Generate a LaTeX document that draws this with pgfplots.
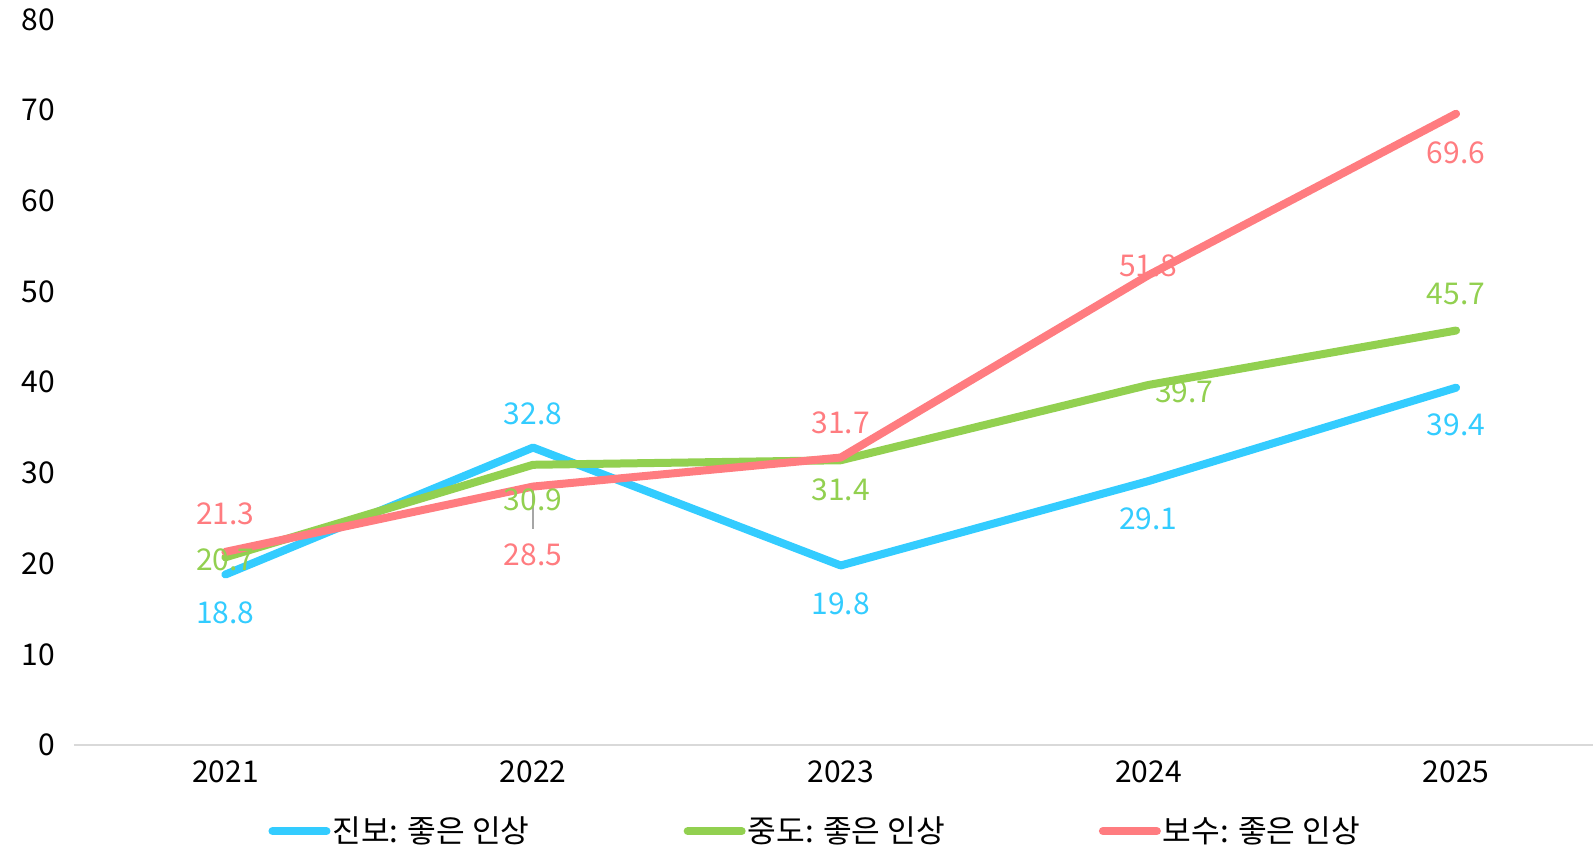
\documentclass[border=0pt]{standalone}
\usepackage{fontspec}
\setmainfont{Noto Sans CJK KR}
\usepackage{pgfplots}
\pgfplotsset{compat=1.18}
\usepackage{pgfplotstable}

\definecolor{cjin}{HTML}{33CCFF}
\definecolor{cjung}{HTML}{92D050}
\definecolor{cbo}{HTML}{FF7C80}

% x, value, label shift (pt)
\pgfplotstableread{
x y dx dy
0 18.8 0 -19
1 32.8 0 17
2 19.8 0 -19
3 29.1 0 -19
4 39.4 0 -18.5
}\jinbo
\pgfplotstableread{
x y dx dy
0 20.7 0 -1
1 30.9 0 -17.5
2 31.4 0 -15
3 39.7 18 -3.5
4 45.7 0 18.5
}\jungdo
\pgfplotstableread{
x y dx dy
0 21.3 0 19
1 28.5 0 -34
2 31.7 0 17.5
3 51.8 0 4.5
4 69.6 0 -19.5
}\bosu

\begin{document}
\begin{tikzpicture}
\begin{axis}[
    name=ax,
    scale only axis,
    width=759.5pt, height=362.85pt,
    xmin=-0.492, xmax=4.445,
    ymin=0, ymax=80,
    xtick={0,1,2,3,4},
    xticklabels={2021,2022,2023,2024,2025},
    ytick={0,10,...,80},
    axis x line*=bottom,
    axis y line*=left,
    x axis line style={draw=black!15, line width=1pt, -},
    y axis line style={draw=none},
    tick style={draw=none},
    major tick length=0pt,
    font=\fontsize{15}{18}\selectfont,
    ticklabel style={font=\fontsize{15}{18}\selectfont},
    yticklabel style={anchor=east, xshift=-6pt},
    xticklabel style={yshift=-4.5pt},
    /pgf/number format/assume math mode=true,
    clip=false,
    legend style={at={(0.488,-0.1185)}, anchor=center, draw=none, fill=none,
        legend columns=3, font=\fontsize{15.6}{18}\selectfont,
        nodes={inner xsep=1pt},
        /tikz/every even column/.append style={column sep=76pt}},
    legend image code/.code={\draw[#1, line cap=round] (0pt,0pt) -- (27pt,0pt);},
    label plot/.style={draw=none, no markers, forget plot,
        nodes near coords,
        point meta=y,
        visualization depends on={\thisrow{dx} \as \dx},
        visualization depends on={\thisrow{dy} \as \dy},
        nodes near coords style={anchor=center, xshift=\dx pt, yshift=\dy pt,
            font=\fontsize{15}{18}\selectfont,
            /pgf/number format/.cd, fixed, fixed zerofill, precision=1, assume math mode=true}},
    line plot/.style={line width=4pt, line cap=round, line join=round, no markers},
]
% leader line for 28.5
\addplot[forget plot, draw=black!35, line width=0.8pt] coordinates {(1,28.5) (1,23.8)};
% data labels
\addplot[label plot, text=cjin] table[x=x, y=y] {\jinbo};
\addplot[label plot, text=cjung] table[x=x, y=y] {\jungdo};
\addplot[label plot, text=cbo] table[x=x, y=y] {\bosu};
% lines
\addplot[line plot, color=cjin] table[x=x, y=y] {\jinbo};
\addlegendentry{진보: 좋은 인상}
\addplot[line plot, color=cjung] table[x=x, y=y] {\jungdo};
\addlegendentry{중도: 좋은 인상}
\addplot[line plot, color=cbo] table[x=x, y=y] {\bosu};
\addlegendentry{보수: 좋은 인상}
\end{axis}
\pgfresetboundingbox
\path ([shift={(-37pt,-53.5pt)}]ax.south west) rectangle ([shift={(0pt,9.7pt)}]ax.north east);
\end{tikzpicture}
\end{document}
